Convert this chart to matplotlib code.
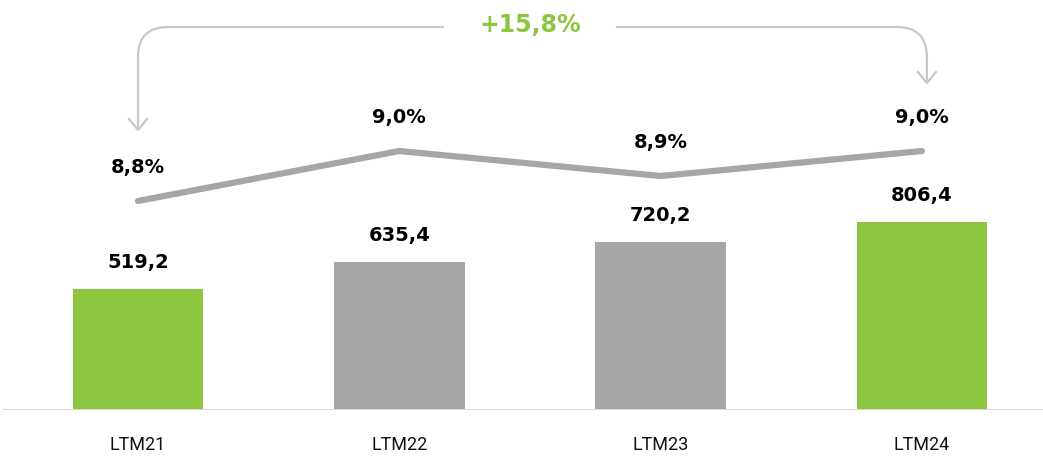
import matplotlib
matplotlib.use("Agg")
import matplotlib.pyplot as plt
import numpy as np
from matplotlib.path import Path
from matplotlib.patches import PathPatch
from matplotlib.transforms import IdentityTransform

# data
periods = ["LTM21", "LTM22", "LTM23", "LTM24"]
revenue = [519.2, 635.4, 720.2, 806.4]
revenue_labels = ["519,2", "635,4", "720,2", "806,4"]
margin = [8.8, 9.0, 8.9, 9.0]
margin_labels = ["8,8%", "9,0%", "8,9%", "9,0%"]
growth_label = "+15,8%"

GREEN = "#8cc63f"
GREY = "#a6a6a6"
bar_colors = [GREEN, GREY, GREY, GREEN]

W, H = 1043, 457
fig = plt.figure(figsize=(W / 100, H / 100), dpi=100)
ax = fig.add_axes([0, 47 / H, 1, 1 - 47 / H])

x = np.arange(len(periods))
ax.bar(x, revenue, width=0.5, color=bar_colors, zorder=2)
ax.set_xlim(-138 / 261.3, (W - 138) / 261.3)
ax.set_ylim(0, 410 / 0.2335)
ax.axhline(0, xmin=4 / W, xmax=1, color="#d9d9d9", lw=2.2, zorder=3)

for xi, v, lab in zip(x, revenue, revenue_labels):
    ax.annotate(lab, (xi, v), xytext=(0, 19), textcoords="offset points",
                ha="center", va="center", fontsize=14, fontweight="bold", color="black")

for xi, lab in zip(x, periods):
    ax.annotate(lab, (xi, 0), xytext=(0, -25), textcoords="offset points",
                ha="center", va="center", fontsize=13, family="Roboto",
                color="#111111", annotation_clip=False)
for s in ax.spines.values():
    s.set_visible(False)
ax.set_xticks([])
ax.set_yticks([])

# margin line on a twin axis
ax2 = ax.twinx()
ax2.set_ylim(8.8 - 209 / 250, 8.8 + 201 / 250)
ax2.plot(x, margin, color=GREY, lw=4.5, solid_capstyle="round", zorder=4)
for xi, m, lab in zip(x, margin, margin_labels):
    ax2.annotate(lab, (xi, m), xytext=(0, 24), textcoords="offset points",
                 ha="center", va="center", fontsize=14, fontweight="bold", color="black")
ax2.axis("off")

# growth bracket, drawn in pixel coordinates
fig.canvas.draw()
xl = ax.transData.transform((0, 0))[0]
xr = ax.transData.transform((3, 0))[0] + 5
xm = ax.transData.transform((1.5, 0))[0]
ytop = H - 27
r = 30
bcol = "#c8c8c8"

def bracket_side(x_end, y_tip, x_gap):
    sgn = 1 if x_gap > x_end else -1
    verts = [(x_end, y_tip), (x_end, ytop - r), (x_end, ytop), (x_end + sgn * r, ytop), (x_gap, ytop)]
    codes = [Path.MOVETO, Path.LINETO, Path.CURVE3, Path.CURVE3, Path.LINETO]
    fig.add_artist(PathPatch(Path(verts, codes), fill=False, ec=bcol, lw=1.6,
                             transform=IdentityTransform()))
    ah = 9
    fig.add_artist(plt.Line2D([x_end - ah, x_end, x_end + ah], [y_tip + ah + 2, y_tip, y_tip + ah + 2],
                              color=bcol, lw=1.6, transform=IdentityTransform()))

bracket_side(xl, H - 130, xm - 86)
bracket_side(xr, H - 83, xm + 86)
fig.text(xm / W, (H - 25) / H, growth_label, ha="center", va="center",
         fontsize=17, fontweight="bold", color=GREEN)

fig.savefig("out.png", dpi=100)
